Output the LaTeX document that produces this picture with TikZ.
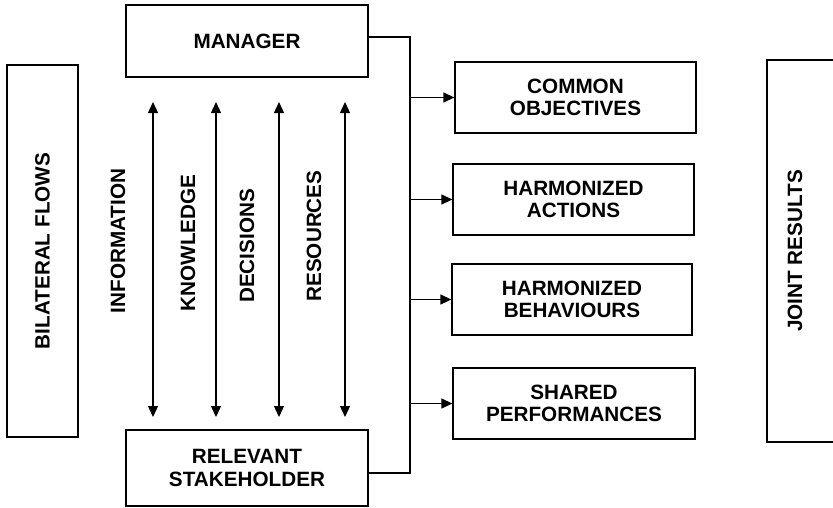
\documentclass[tikz,border=0pt]{standalone}
\usepackage{fontspec}
\setmainfont{Liberation Sans}
\usetikzlibrary{arrows.meta}
\tikzset{
	box/.style={draw, line width=1.3pt, inner sep=0pt, align=center,
		minimum width=241pt, minimum height=71pt},
	flow/.style={line width=1.3pt, -{Triangle[length=11pt,width=10pt]}},
	twoway/.style={line width=1.3pt, {Triangle[length=11pt,width=10pt]}-{Triangle[length=11pt,width=10pt]}},
	vlabel/.style={rotate=90, inner sep=0pt}
}

\begin{document}
\begin{tikzpicture}[x=1pt,y=-1pt, font=\fontsize{20.7}{22.5}\selectfont\bfseries]
	\useasboundingbox (0,0) rectangle (833,507);

	% actors
	\node[box, minimum width=242pt, minimum height=72pt] (manager) at (247,41) {MANAGER};
	\node[box, minimum width=242pt, minimum height=76pt] (stakeholder) at (247,468) {RELEVANT\\STAKEHOLDER};

	% side boxes
	\node[box, minimum width=71pt, minimum height=372pt] (bilateral) at (42.5,251) {};
	\node[vlabel] at (bilateral.center) {BILATERAL FLOWS};
	\node[box, minimum width=73pt, minimum height=382pt] (joint) at (803.5,251) {};
	\node[vlabel] at (795,251) {JOINT RESULTS};

	% results
	\node[box] (common) at (575.5,97.5) {COMMON\\OBJECTIVES};
	\node[box] (actions) at (573.5,199.5) {HARMONIZED\\ACTIONS};
	\node[box, minimum width=240pt] (behaviours) at (572,299.5) {HARMONIZED\\BEHAVIOURS};
	\node[box, minimum width=242pt] (shared) at (574,403.5) {SHARED\\PERFORMANCES};

	% flow labels
	\node[vlabel] at (118,241) {INFORMATION};
	\node[vlabel] at (188,243) {KNOWLEDGE};
	\node[vlabel] at (247,246) {DECISIONS};
	\node[vlabel] at (314,236) {RESOURCES};

	% bilateral arrows
	\foreach \i/\x in {1/153,2/216,3/279,4/345} {
		\coordinate (up\i) at (\x,102);
		\coordinate (down\i) at (\x,417);
		\draw[twoway] (up\i) -- (down\i);
	}

	% bus to results
	\coordinate (bus) at (410,0);
	\draw[line width=1.3pt] ([yshift=4pt]manager.east) -- ([yshift=4pt]manager.east -| bus)
		-- ([yshift=-5pt]stakeholder.east -| bus) -- ([yshift=-5pt]stakeholder.east);
	\foreach \b in {common,actions,behaviours,shared}
		\draw[flow] (bus |- \b.west) -- (\b.west);
\end{tikzpicture}
\end{document}
